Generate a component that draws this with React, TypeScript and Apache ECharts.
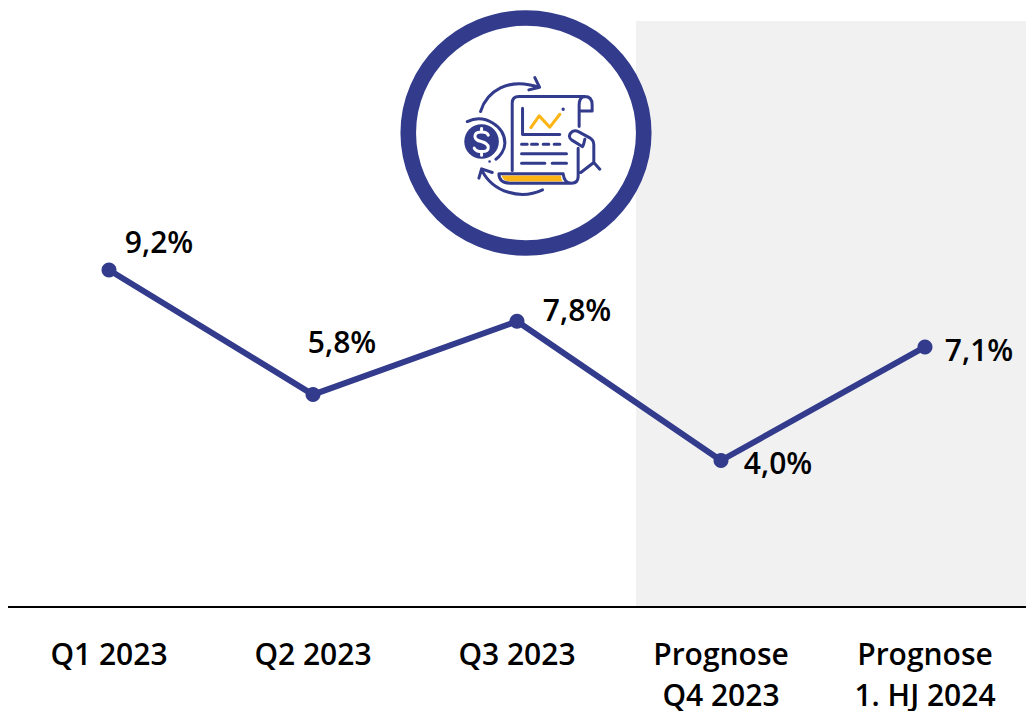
import React, { useEffect, useRef } from "react";
import * as echarts from "echarts";

const categories = ["Q1 2023", "Q2 2023", "Q3 2023", "Prognose\nQ4 2023", "Prognose\n1. HJ 2024"];
const values = [9.2, 5.8, 7.8, 4.0, 7.1];
const labelTexts = ["9,2%", "5,8%", "7,8%", "4,0%", "7,1%"];
const labelOffsets = [[50, -29], [29, -53], [60, -12], [57, 2], [54, 3]];

const NAVY = "#323b8c";
const YELLOW = "#fdb415";
const FONT = '"Open Sans", sans-serif';

const iconStroke =
  "M257 335C275 275 340 230 432 262M420 233L434 262L402 270" +
  "M443 570C380 600 295 580 260 510M252 535L260 507L292 518" +
  "M217 365C270 340 330 380 330 430C330 450 315 470 303 478" +
  "M352 512L352 310Q352 290 372 290L570 290Q592 290 592 315L592 333L555 333" +
  "M570 290Q553 292 553 315L553 380" +
  "M552 396C530 385 515 410 530 420L562 440Q565 442 570 418" +
  "M552 396L585 414Q597 422 597 435L597 488L615 508M597 488L558 518" +
  "M312 522L505 522Q508 550 530 550Q550 550 550 530L550 445" +
  "M530 550L345 550Q312 550 312 522" +
  "M383 325L383 404L495 404" +
  "M380 433L397 433M410 433L428 433M445 433L462 433M478 433L495 433" +
  "M380 462L515 462M380 490L450 490M472 490L515 490";
const iconCoin = "M208 425A52 52 0 1 0 312 425A52 52 0 1 0 208 425Z";
const iconDollar =
  "M280 406C275 394 240 392 240 410C240 430 280 420 280 443C280 460 245 458 238 445M260 386L260 396M260 456L260 466";
const iconYellow = "M320 527L498 527Q498 538 504 545L345 545Q325 545 320 527Z";
const iconTrend = "M408 383L433 348L465 382L495 343";
const iconDots = "M280 485A4 4 0 1 0 288 485A4 4 0 1 0 280 485ZM500 328A5 5 0 1 0 510 328A5 5 0 1 0 500 328Z";

echarts.graphic.registerShape("iconStroke", echarts.graphic.extendPath(iconStroke, {}));
echarts.graphic.registerShape("iconCoin", echarts.graphic.extendPath(iconCoin, {}));
echarts.graphic.registerShape("iconDollar", echarts.graphic.extendPath(iconDollar, {}));
echarts.graphic.registerShape("iconYellow", echarts.graphic.extendPath(iconYellow, {}));
echarts.graphic.registerShape("iconTrend", echarts.graphic.extendPath(iconTrend, {}));
echarts.graphic.registerShape("iconDots", echarts.graphic.extendPath(iconDots, {}));

const tickStyle = { color: "#000000", fontFamily: FONT, fontWeight: 600, fontSize: 30 };

export default function App() {
  const ref = useRef<HTMLDivElement>(null);
  useEffect(() => {
    const chart = echarts.init(ref.current!, undefined, { renderer: "svg" });
    const line = { fill: "none", stroke: NAVY, lineWidth: 9, lineCap: "round", lineJoin: "round" };
    chart.setOption({
      animation: false,
      backgroundColor: "#ffffff",
      grid: { left: 7, top: 21, width: 1020, height: 586, outerBoundsMode: "none" },
      xAxis: {
        type: "category",
        data: categories,
        boundaryGap: true,
        axisTick: { show: false },
        axisLine: { show: true, lineStyle: { color: "#000000", width: 2 } },
        axisLabel: {
          interval: 0,
          margin: 20,
          verticalAlign: "top",
          formatter: (value: string) => {
            const parts = value.split("\n");
            return parts.map((p, i) => (i === 0 ? `{first|${p}}` : `{second|${p}}`)).join("\n");
          },
          rich: {
            first: { ...tickStyle, lineHeight: 52 },
            second: { ...tickStyle, lineHeight: 30 },
          },
        },
      },
      yAxis: { type: "value", min: 0, max: 16, show: false, splitLine: { show: false } },
      series: [
        {
          type: "line",
          z: 5,
          data: values.map((value, i) => ({
            value,
            label: { offset: labelOffsets[i], formatter: labelTexts[i] },
          })),
          symbol: "circle",
          symbolSize: 15,
          lineStyle: { color: NAVY, width: 6 },
          itemStyle: { color: NAVY },
          label: {
            show: true,
            position: "inside",
            align: "center",
            verticalAlign: "middle",
            color: "#000000",
            fontFamily: FONT,
            fontWeight: 600,
            fontSize: 30,
          },
          markArea: {
            silent: true,
            z: 0,
            itemStyle: { color: "#f1f1f2" },
            data: [[{ x: 636, y: 21 }, { x: 1026, y: 606 }]],
          },
        },
      ],
      graphic: [
        {
          type: "rect",
          z: 10,
          shape: { x: 0, y: 600, width: 8, height: 12 },
          style: { fill: "#ffffff" },
        },
        {
          type: "ellipse",
          z: 10,
          shape: { cx: 526, cy: 133, rx: 117.75, ry: 115 },
          style: { fill: "#ffffff", stroke: NAVY, lineWidth: 15.6 },
        },
        {
          type: "group",
          x: 395,
          y: 0,
          scaleX: 1 / 3,
          scaleY: 1 / 3,
          z: 11,
          children: [
            { type: "iconYellow", z: 11, style: { fill: YELLOW } },
            { type: "iconCoin", z: 11, style: { fill: NAVY } },
            { type: "iconDollar", z: 12, style: { fill: "none", stroke: "#ffffff", lineWidth: 9, lineCap: "round" } },
            { type: "iconStroke", z: 12, style: line },
            { type: "iconTrend", z: 12, style: { ...line, stroke: YELLOW } },
            { type: "iconDots", z: 12, style: { fill: NAVY } },
          ],
        },
      ],
    });
    return () => chart.dispose();
  }, []);
  return <div ref={ref} style={{ position: "fixed", left: 0, top: 0, width: 1026, height: 711 }} />;
}
